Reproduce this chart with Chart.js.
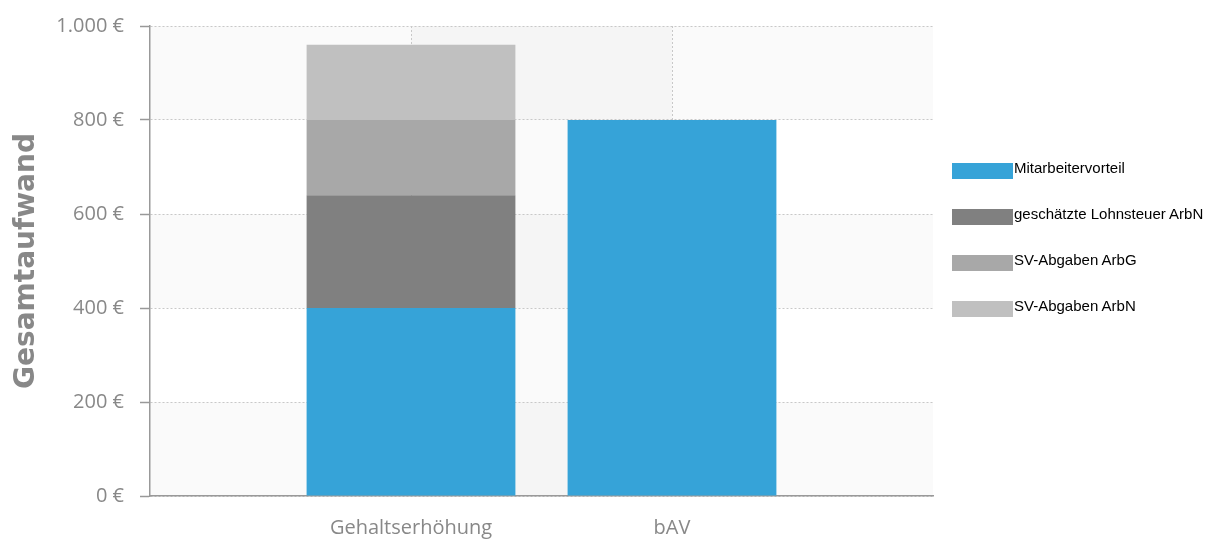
<!DOCTYPE html>
<html lang="de">
<head>
<meta charset="utf-8">
<title>Gesamtaufwand</title>
<script src="https://cdn.jsdelivr.net/npm/chart.js@4.4.1/dist/chart.umd.min.js"></script>
<style>
  html, body { margin: 0; padding: 0; background: #fff; }
  .wrap { position: relative; width: 1217px; height: 540px; }
  .legende { position: absolute; left: 952px; top: 0; font: 15px "Liberation Sans", Arial, sans-serif; color: #000; }
  .legende .item { position: absolute; left: 0; white-space: nowrap; }
  .legende .box { position: absolute; left: 0; top: 3px; width: 61px; height: 16px; }
  .legende .txt { position: absolute; left: 62px; top: 0; line-height: 15px; }
</style>
</head>
<body>
<div class="wrap">
  <canvas id="myChart"></canvas>
  <div class="legende" id="legende"></div>
</div>
<script>
const categories = ['Gehaltserhöhung', 'bAV'];
const mitarbeitervorteil = [400, 800];
const lohnsteuer = [240, null];
const svArbG = [160, null];
const svArbN = [160, null];
const yMin = 0;
const yMax = 1000;
const yStep = 200;

const serien = [
    { label: 'Mitarbeitervorteil', data: mitarbeitervorteil, color: '#36a3d8' },
    { label: 'geschätzte Lohnsteuer ArbN', data: lohnsteuer, color: '#808080' },
    { label: 'SV-Abgaben ArbG', data: svArbG, color: '#a8a8a8' },
    { label: 'SV-Abgaben ArbN', data: svArbN, color: '#c0c0c0' }
];

// leere Kategorie links und rechts, damit die Balken auf den Gitterlinien sitzen
const labels = ['', ...categories, ''];

function euro(v) {
    return String(v).replace(/\B(?=(\d{3})+(?!\d))/g, '.') + ' €';
}

// Hintergrund: waagerechte Streifen + dunklere mittlere Spalte
const hintergrund = {
    id: 'hintergrund',
    beforeDraw(chart) {
        const { ctx, chartArea } = chart;
        const y = chart.scales.y;
        const x = chart.scales.x;
        ctx.save();
        const ticks = y.ticks;
        for (let i = 0; i < ticks.length - 1; i++) {
            const y0 = y.getPixelForValue(ticks[i].value);
            const y1 = y.getPixelForValue(ticks[i + 1].value);
            ctx.fillStyle = i % 2 === 0 ? '#fafafa' : '#ffffff';
            ctx.fillRect(chartArea.left, y1, chartArea.right - chartArea.left, y0 - y1);
        }
        const x1 = x.getPixelForTick(1);
        const x2 = x.getPixelForTick(2);
        ctx.fillStyle = 'rgba(0,0,0,0.02)';
        ctx.fillRect(x1, chartArea.top, x2 - x1, chartArea.bottom - chartArea.top);
        ctx.restore();
    }
};

const ctx = document.getElementById('myChart').getContext('2d');

new Chart(ctx, {
    type: 'bar',
    data: {
        labels: labels,
        datasets: serien.map(s => ({
            label: s.label,
            data: [null, ...s.data, null],
            backgroundColor: s.color,
            borderWidth: 0,
            barPercentage: 1,
            categoryPercentage: 0.8
        }))
    },
    options: {
        responsive: true,
        maintainAspectRatio: false,
        animation: false,
        events: [],
        layout: { padding: { top: 26, right: 284, left: 0, bottom: 0 } },
        plugins: {
            legend: { display: false },
            tooltip: { enabled: false }
        },
        scales: {
            x: {
                stacked: true,
                offset: false,
                grid: {
                    offset: false,
                    drawTicks: false,
                    lineWidth: 1,
                    color: c => (c.index === 1 || c.index === 2) ? '#c8c8c8' : 'rgba(0,0,0,0)'
                },
                border: { display: true, color: '#999', width: 1.5, dash: [2, 2] },
                ticks: {
                    padding: 20,
                    color: '#888',
                    maxRotation: 0,
                    autoSkip: false,
                    font: { family: '"Open Sans", sans-serif', size: 20 }
                },
                afterFit(scale) { scale.height = 44; }
            },
            y: {
                stacked: true,
                min: yMin,
                max: yMax,
                grid: {
                    color: '#c8c8c8',
                    lineWidth: 1,
                    tickLength: 10,
                    tickColor: '#999',
                    tickWidth: 1.5,
                    tickBorderDash: []
                },
                border: { display: true, color: '#999', width: 1.5, dash: [2, 2] },
                ticks: {
                    stepSize: yStep,
                    padding: 16,
                    color: '#888',
                    font: { family: '"Open Sans", sans-serif', size: 20 },
                    callback: v => euro(v)
                },
                title: {
                    display: true,
                    text: 'Gesamtaufwand',
                    color: '#888',
                    padding: { top: 10, bottom: 0 },
                    font: { family: '"DejaVu Sans", Verdana, sans-serif', size: 28, weight: 'bold' }
                },
                afterFit(scale) {
                    scale.width = 150;
                    scale.paddingTop = 0;
                    scale.paddingBottom = 0;
                }
            }
        }
    },
    plugins: [hintergrund]
});

// Legende als HTML rechts neben dem Diagramm
const legende = document.getElementById('legende');
const legendeTop = [163, 209, 255, 301];
serien.forEach((s, i) => {
    const item = document.createElement('div');
    item.className = 'item';
    item.style.top = (legendeTop[i] - 3) + 'px';
    item.innerHTML = '<span class="box" style="background:' + s.color + '"></span><span class="txt">' + s.label + '</span>';
    legende.appendChild(item);
});
</script>
</body>
</html>
